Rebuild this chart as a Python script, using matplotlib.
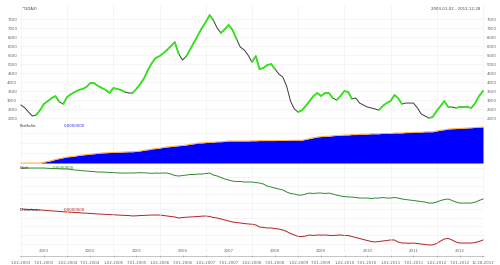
import numpy as np
import pandas as pd
import matplotlib
matplotlib.use("Agg")
import matplotlib.pyplot as plt
import matplotlib.transforms as mtransforms

# monthly samples, Jan 2003 .. Jan 2013
dates = pd.date_range("2003-01-01", periods=121, freq="MS")

price = [2720, 2560, 2330, 2110, 2170, 2440, 2780, 2940, 3110, 3220,
         2890, 2780, 3170, 3330, 3440, 3560, 3610, 3720, 3940, 3940,
         3780, 3670, 3560, 3390, 3670, 3610, 3560, 3440, 3390, 3390,
         3610, 3890, 4220, 4670, 5060, 5330, 5440, 5610, 5780, 6000,
         6220, 5560, 5220, 5440, 5830, 6220, 6610, 7000, 7330, 7720,
         7440, 7000, 6720, 6940, 7170, 6890, 6390, 5940, 5780, 5500,
         5110, 5440, 4720, 4780, 4940, 5000, 4720, 4440, 4280, 3780,
         2940, 2500, 2330, 2440, 2670, 2940, 3220, 3390, 3220, 3390,
         3390, 3110, 3000, 3220, 3500, 3440, 3060, 3110, 2830, 2720,
         2610, 2560, 2500, 2440, 2670, 2830, 2940, 3280, 3110, 2780,
         2830, 2830, 2830, 2560, 2220, 2110, 2000, 2060, 2390, 2670,
         2940, 2610, 2610, 2560, 2610, 2610, 2610, 2560, 2830, 3220, 3500]

# index ranges where the price line is drawn green
green_runs = [(5, 9), (12, 22), (24, 26), (30, 40), (44, 49), (53, 55),
              (61, 61), (63, 65), (73, 80), (83, 85), (94, 98),
              (107, 110), (114, 120)]

portfolio = [0, 0, 0, 0, 0, 0, 0.02, 0.04, 0.06, 0.09,
             0.11, 0.13, 0.15, 0.16, 0.17, 0.19, 0.20, 0.21, 0.22, 0.23,
             0.24, 0.25, 0.255, 0.26, 0.265, 0.27, 0.27, 0.275, 0.28, 0.28,
             0.29, 0.30, 0.32, 0.33, 0.35, 0.36, 0.37, 0.39, 0.40, 0.41,
             0.42, 0.43, 0.44, 0.45, 0.47, 0.48, 0.50, 0.50, 0.51, 0.52,
             0.52, 0.53, 0.53, 0.54, 0.55, 0.55, 0.55, 0.55, 0.55, 0.55,
             0.555, 0.555, 0.56, 0.56, 0.56, 0.56, 0.56, 0.565, 0.565, 0.565,
             0.57, 0.57, 0.57, 0.57, 0.59, 0.61, 0.63, 0.65, 0.66, 0.67,
             0.67, 0.68, 0.69, 0.69, 0.70, 0.70, 0.71, 0.71, 0.72, 0.72,
             0.72, 0.73, 0.73, 0.73, 0.74, 0.74, 0.74, 0.75, 0.75, 0.75,
             0.76, 0.76, 0.77, 0.77, 0.77, 0.78, 0.78, 0.78, 0.80, 0.82,
             0.83, 0.85, 0.855, 0.86, 0.865, 0.87, 0.875, 0.88, 0.89, 0.895, 0.90]

cash = [100.0, 100.0, 100.0, 100.0, 100.0, 100.0, 100.0, 99.7, 99.4, 99.3,
        99.1, 98.9, 98.9, 98.3, 97.7, 97.4, 96.9, 96.6, 96.2, 95.9,
        95.4, 95.4, 95.2, 95.0, 94.7, 94.5, 94.3, 94.3, 94.3, 94.3,
        94.5, 94.7, 94.5, 94.3, 93.9, 94.3, 94.1, 94.3, 94.3, 93.1,
        91.4, 90.9, 91.4, 92.0, 92.6, 92.6, 93.1, 93.1, 93.7, 94.3,
        92.0, 90.9, 89.1, 87.4, 86.3, 85.1, 84.6, 84.6, 84.0, 84.0,
        84.0, 83.4, 82.9, 81.7, 79.4, 78.3, 77.1, 76.0, 74.9, 72.6,
        70.9, 70.3, 69.1, 69.1, 70.3, 71.4, 70.9, 71.4, 71.4, 70.9,
        71.4, 70.3, 69.1, 68.0, 67.4, 66.9, 66.9, 66.3, 65.7, 65.7,
        65.7, 65.1, 65.7, 65.7, 66.3, 65.7, 65.7, 66.3, 65.7, 64.6,
        64.0, 63.4, 62.9, 62.3, 61.7, 61.1, 60.0, 60.0, 61.1, 62.9,
        64.0, 64.6, 62.9, 61.1, 60.0, 60.0, 60.0, 60.0, 61.1, 62.9, 64.6]

value = [100.0, 99.8, 99.5, 99.3, 99.1, 98.9, 98.5, 98.2, 97.8, 97.5,
         97.1, 96.8, 96.6, 96.3, 96.0, 95.8, 95.4, 95.2, 94.9, 94.6,
         94.3, 94.1, 93.8, 93.6, 93.4, 93.1, 92.9, 92.7, 92.5, 92.0,
         92.2, 92.5, 92.7, 92.9, 93.1, 93.1, 93.1, 92.6, 92.0, 91.4,
         90.9, 89.7, 90.3, 90.6, 90.9, 91.1, 91.4, 91.8, 92.0, 91.4,
         90.3, 89.7, 88.6, 87.4, 86.3, 85.1, 84.6, 84.0, 83.4, 82.9,
         82.6, 81.7, 79.4, 78.9, 78.3, 78.3, 77.7, 77.1, 76.0, 74.3,
         72.0, 70.3, 68.6, 68.6, 69.1, 70.3, 69.7, 70.3, 70.1, 70.3,
         69.9, 69.7, 70.1, 70.3, 69.7, 69.7, 68.6, 67.4, 66.3, 65.1,
         64.0, 62.9, 62.3, 62.9, 63.4, 64.0, 64.6, 64.6, 62.3, 61.1,
         61.1, 60.8, 61.1, 60.6, 60.0, 59.4, 58.9, 58.9, 60.6, 63.4,
         65.7, 66.3, 64.6, 62.3, 61.1, 61.1, 61.1, 61.1, 61.7, 62.9, 64.6]

price_ticks = [2000, 2500, 3000, 3500, 4000, 4500, 5000, 5500, 6000, 6500, 7000, 7500]
years = list(range(2003, 2013))
title_left = "^GDAXI"
title_right = "2003-01-02 - 2012-12-28"

W, H = 500, 265
fig = plt.figure(figsize=(5, 2.65), dpi=100)
fs = 2.8
gray = "#666666"


def panel(top, bot):
    ax = fig.add_axes([20 / W, 1 - bot / H, 464 / W, (bot - top) / H])
    for s in ax.spines.values():
        s.set_visible(False)
    ax.grid(True, color="#eeeeee", lw=0.4)
    ax.set_axisbelow(True)
    ax.tick_params(length=0, labelsize=fs, colors=gray)
    ax.set_xlim(dates[0] - pd.Timedelta(days=8), dates[-1] + pd.Timedelta(days=8))
    xt = [pd.Timestamp(f"{y}-01-01") for y in years] + [pd.Timestamp("2013-01-01")]
    ax.set_xticks(xt)
    ax.set_xticklabels([])
    ax.set_yticklabels([])
    return ax


# price panel
ax0 = panel(5, 122)
ax0.plot(dates, price, color="#3a3a3a", lw=0.7)
p = np.array(price, dtype=float)
for a, b in green_runs:
    lo, hi = max(a - 1, 0), min(b + 1, len(p) - 1)
    ax0.plot(dates[lo:hi + 1], p[lo:hi + 1], color="#33e61a", lw=1.3, solid_capstyle="round")
ax0.set_ylim(1778, 8278)
ax0.set_yticks(price_ticks)
ax0.set_yticklabels([str(t) for t in price_ticks])
ax0.tick_params(axis="y", labelleft=True, labelright=True, pad=2)
fig.text(22 / W, 1 - 9 / H, title_left, fontsize=fs, color="#444444", va="center")
fig.text(480 / W, 1 - 9 / H, title_right, fontsize=fs, color="#444444", va="center", ha="right")

# portfolio panel
ax1 = panel(123, 164)
ax1.fill_between(dates, 0, portfolio, color="#0000ff", lw=0)
ax1.plot(dates, portfolio, color="#ffa020", lw=0.6)
ax1.set_ylim(-0.025, 1.0)
ax1.set_yticks([0, 0.25, 0.5, 0.75])
ax1.text(0.0, 0.9, "Portfolio", transform=ax1.transAxes, fontsize=fs, color="#333333")
ax1.text(0.095, 0.9, "0.0000000", transform=ax1.transAxes, fontsize=fs, color="#3030ff")

# cash panel
ax2 = panel(164, 206)
ax2.plot(dates, cash, color="#2e8b2e", lw=0.7)
ax2.set_ylim(56.6, 104.6)
ax2.set_yticks([60, 70, 80, 90, 100])
ax2.text(0.0, 0.88, "Cash", transform=ax2.transAxes, fontsize=fs, color="#333333")
ax2.text(0.07, 0.88, "0.0000000", transform=ax2.transAxes, fontsize=fs, color="#2e8b2e")

# value panel with the date axis
ax3 = panel(206, 256)
ax3.plot(dates, value, color="#b22222", lw=0.7)
ax3.set_ylim(46.3, 103.4)
ax3.set_yticks([60, 70, 80, 90, 100])
ax3.text(0.0, 0.9, "Drawdown", transform=ax3.transAxes, fontsize=fs, color="#333333")
ax3.text(0.095, 0.9, "0.0000000", transform=ax3.transAxes, fontsize=fs, color="#b22222")
ax3.spines["bottom"].set_visible(True)
ax3.spines["bottom"].set_color("#999999")
ax3.spines["bottom"].set_linewidth(0.4)
half = []
labels = []
for y in years:
    half += [pd.Timestamp(f"{y}-01-02"), pd.Timestamp(f"{y}-07-01")]
    labels += [f"1-02-{y}", f"7-01-{y}"]
half.append(pd.Timestamp("2012-12-28"))
labels.append("12-28-2012")
ax3.set_xticks(half)
ax3.set_xticklabels(labels)
ax3.tick_params(axis="x", length=1.5, width=0.4, direction="inout", color="#999999", pad=3)
ax3.grid(False, axis="x")
for y in years:
    ax3.vlines(pd.Timestamp(f"{y}-01-01"), 0.08, 1, transform=ax3.get_xaxis_transform(),
               color="#eeeeee", lw=0.4)
trans = mtransforms.blended_transform_factory(ax3.transData, ax3.transAxes)
for y in years:
    ax3.text(pd.Timestamp(f"{y}-07-01"), 0.05, str(y), transform=trans,
             fontsize=fs, color=gray, ha="center", va="bottom")

fig.savefig("out.png", dpi=100)
